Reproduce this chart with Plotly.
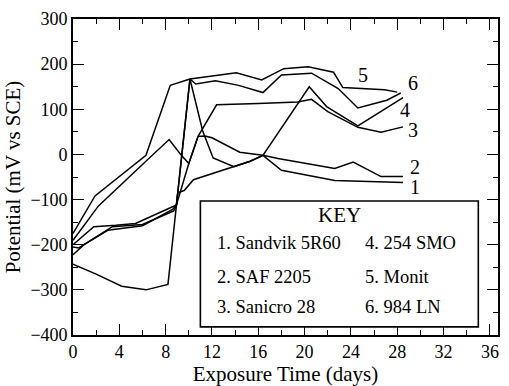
import plotly.graph_objects as go

# ---- data ----
days_1 = [0, 1.8, 3.7, 5.4, 8.5, 8.93, 10.1, 11.2, 12.1, 13.9, 15.3, 16.4, 18.0, 22.6, 28.5]
pot_1 = [-200, -160, -157, -153, -117, -112, 167, 52, -8, -27, -15, -2, -35, -58, -62]

days_2 = [0, 0.95, 3.0, 6.0, 8.6, 8.93, 10.0, 10.8, 11.4, 12.0, 14.4, 16.4, 17.7, 22.6, 24.2, 26.6, 28.5]
pot_2 = [-222, -200, -168, -158, -122, -112, -20, 40, 41, 37, 5, -2, -9, -31, -17, -49, -49]

days_3 = [0, 2.2, 6.5, 8.3, 9.3, 10.0, 10.8, 12.4, 16.0, 19.4, 20.6, 22.0, 24.6, 26.6, 28.5]
pot_3 = [-190, -114, -10, 33, 0, -20, 40, 110, 113, 116, 122, 95, 60, 49, 61]

days_4 = [0, 0.5, 3.4, 6.0, 8.7, 8.93, 9.05, 9.6, 10.4, 13.9, 15.3, 16.4, 20.4, 21.9, 24.6, 28.5]
pot_4 = [-205, -207, -160, -155, -125, -112, -85, -80, -56, -27, -15, -2, 150, 106, 63, 126]

days_5 = [0, 1.9, 6.3, 8.4, 10.1, 12.3, 14.1, 16.3, 18.2, 20.3, 22.5, 23.3, 26.9, 28.0]
pot_5 = [-175, -92, -2, 153, 167, 174, 181, 165, 190, 194, 182, 148, 143, 138]

days_6 = [0, 2.0, 4.2, 6.3, 8.2, 10.1, 10.6, 12.3, 14.3, 16.4, 18.0, 20.6, 22.9, 24.6, 27.1, 28.3]
pot_6 = [-243, -265, -292, -300, -288, 167, 156, 163, 153, 137, 176, 180, 146, 103, 120, 136]

series = [(days_1, pot_1), (days_2, pot_2), (days_3, pot_3),
          (days_4, pot_4), (days_5, pot_5), (days_6, pot_6)]

end_labels = ["1", "2", "3", "4", "5", "6"]
end_label_x = [29.5, 29.5, 29.4, 28.7, 25.0, 29.35]
end_label_y = [-72, -27, 55, 98, 177, 159]

key_names = ["1. Sandvik 5R60", "2. SAF 2205", "3. Sanicro 28",
             "4. 254 SMO", "5. Monit", "6. 984 LN"]

x_ticks = [0, 4, 8, 12, 16, 20, 24, 28, 32, 36]
y_ticks = [-400, -300, -200, -100, 0, 100, 200, 300]

FONT = "Liberation Serif"

fig = go.Figure()
for d, p in series:
    fig.add_trace(go.Scatter(x=d, y=p, mode="lines",
                             line=dict(color="black", width=1.5),
                             showlegend=False, hoverinfo="skip"))

for t, x, y in zip(end_labels, end_label_x, end_label_y):
    fig.add_annotation(x=x, y=y, text=t, showarrow=False,
                       font=dict(family=FONT, size=20, color="black"))

# KEY box
fig.add_shape(type="rect", xref="x", yref="y", x0=11.0, x1=35.0, y0=-382, y1=-103,
              line=dict(color="black", width=1.6), fillcolor="white", layer="above")
fig.add_annotation(x=23.0, y=-134, text="KEY", showarrow=False,
                   font=dict(family=FONT, size=21, color="black"))
col_x = [12.3, 12.3, 12.3, 25.0, 25.0, 25.0]
row_y = [-196, -272, -339, -196, -272, -339]
for name, x, y in zip(key_names, col_x, row_y):
    fig.add_annotation(x=x, y=y, text=name, showarrow=False, xanchor="left",
                       font=dict(family=FONT, size=18.5, color="black"))

axis_common = dict(showline=True, linecolor="black", linewidth=1.6, mirror="allticks",
                   ticks="inside", ticklen=11, tickwidth=1.4, tickcolor="black",
                   showgrid=False, zeroline=False,
                   tickfont=dict(family=FONT, size=18, color="black"))

fig.update_xaxes(range=[0, 36.7], tickvals=x_ticks,
                 minor=dict(dtick=2, ticklen=5, tickwidth=1.2, ticks="inside", tickcolor="black"),
                 title=dict(text="Exposure Time (days)", font=dict(family=FONT, size=21, color="black"),
                            standoff=0),
                 **axis_common)
fig.update_yaxes(range=[-400, 300], tickvals=y_ticks,
                 minor=dict(dtick=50, ticklen=5, tickwidth=1.2, ticks="inside", tickcolor="black"),
                 title=dict(text="Potential (mV vs SCE)", font=dict(family=FONT, size=21, color="black"),
                            standoff=4),
                 **axis_common)

fig.update_layout(width=509, height=386, margin=dict(l=73, r=9, t=15, b=48),
                  plot_bgcolor="white", paper_bgcolor="white")

fig.write_html("out.html", config={"displayModeBar": False},
               post_script="document.body.style.margin='0';")
